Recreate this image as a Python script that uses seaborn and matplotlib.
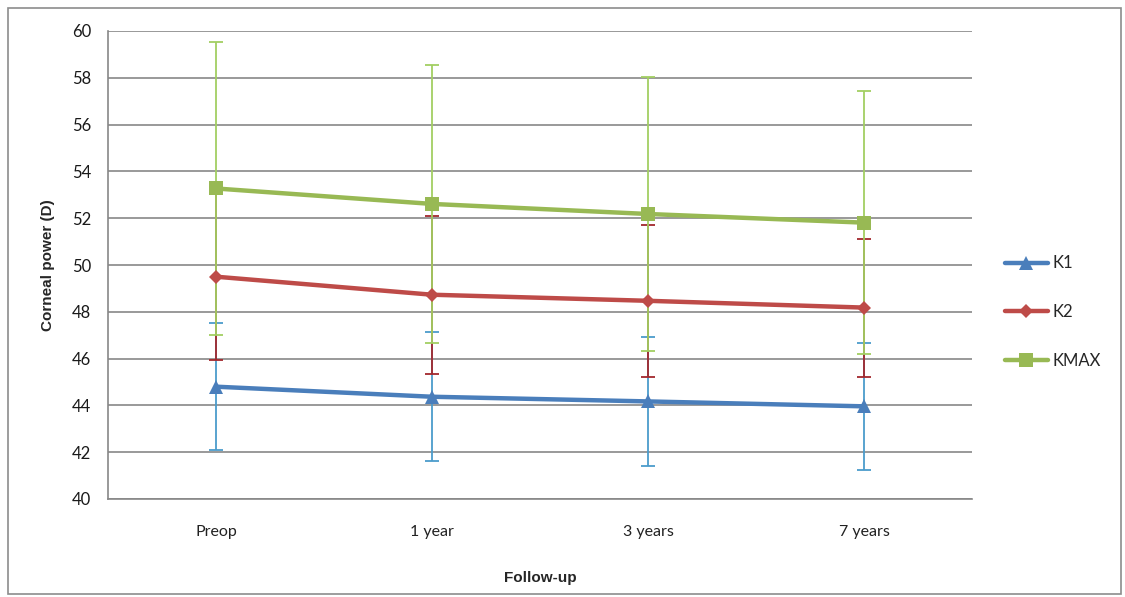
import pandas as pd
import numpy as np
import matplotlib.pyplot as plt
import seaborn as sns
from matplotlib.patches import Rectangle

# data
visits = ['Preop', '1 year', '3 years', '7 years']
k1_mean = [44.8, 44.37, 44.17, 43.96]
k1_sd = [2.71, 2.76, 2.76, 2.71]
k2_mean = [49.5, 48.73, 48.47, 48.18]
k2_sd = [3.58, 3.37, 3.24, 2.95]
kmax_mean = [53.27, 52.61, 52.18, 51.81]
kmax_sd = [6.25, 5.94, 5.87, 5.63]

series = ['K1', 'K2', 'KMAX']
means = {'K1': k1_mean, 'K2': k2_mean, 'KMAX': kmax_mean}
sds = {'K1': k1_sd, 'K2': k2_sd, 'KMAX': kmax_sd}
line_colors = {'K1': '#4a7ebb', 'K2': '#be4b48', 'KMAX': '#98b954'}
err_colors = {'K1': '#4b9ccb', 'K2': '#a3282d', 'KMAX': '#a2cf62'}
marker_map = {'K1': '^', 'K2': 'D', 'KMAX': 's'}
marker_size = {'K1': 10, 'K2': 7, 'KMAX': 10}

rows = []
for s in series:
    for i, v in enumerate(visits):
        rows.append({'pos': i, 'visit': v, 'series': s, 'value': means[s][i], 'sd': sds[s][i]})
df = pd.DataFrame(rows)

sns.set_style('white')
plt.rcParams['font.family'] = ['Lato', 'DejaVu Sans']

fig = plt.figure(figsize=(11.25, 5.97), dpi=100)
ax = fig.add_axes([108 / 1125, 98 / 597, 864 / 1125, 468 / 597])

grid_c = '#878787'
for s in series:
    d = df[df['series'] == s]
    ax.errorbar(d['pos'], d['value'], yerr=d['sd'], fmt='none', ecolor=err_colors[s],
                elinewidth=1.3, capsize=5, capthick=1.3, zorder=3)
    sns.lineplot(data=d, x='pos', y='value', ax=ax, color=line_colors[s], linewidth=3.2,
                 marker=marker_map[s], markersize=marker_size[s], markeredgewidth=0,
                 label=s, zorder=4)

ax.set_xlim(-0.5, 3.5)
ax.set_ylim(40, 60)
ax.set_yticks(np.arange(40, 61, 2))
ax.yaxis.grid(True, color=grid_c, linewidth=1.2)
ax.xaxis.grid(False)
ax.set_axisbelow(True)

ax.set_xticks(range(len(visits)))
ax.set_xticklabels(visits)
ax.set_xticks(np.arange(-0.5, 3.6, 1), minor=True)
ax.tick_params(axis='x', which='major', length=0, pad=19, labelsize=11.5, labelcolor='#222222')
ax.tick_params(axis='x', which='minor', length=6, width=1.2, color=grid_c, direction='out')
ax.tick_params(axis='y', length=6, width=1.2, color=grid_c, direction='out', pad=6,
               labelsize=12, labelcolor='#1a1a1a')

for side in ['top', 'right']:
    ax.spines[side].set_visible(False)
for side in ['left', 'bottom']:
    ax.spines[side].set_color(grid_c)
    ax.spines[side].set_linewidth(1.2)

ax.set_xlabel('Follow-up', fontsize=11, fontweight='bold', family=['Liberation Sans'],
              labelpad=23)
ax.set_ylabel('Corneal power (D)', fontsize=11, fontweight='bold', family=['Liberation Sans'],
              labelpad=12)

ax.legend(loc='center left', bbox_to_anchor=(998 / 1125, (597 - 312) / 597),
          bbox_transform=fig.transFigure, frameon=False, fontsize=12,
          handlelength=2.6, labelspacing=1.95, handletextpad=0.3, borderaxespad=0)

fig.patches.append(Rectangle((8 / 1125, 3 / 597), 1113 / 1125, 586 / 597,
                             transform=fig.transFigure, fill=False,
                             edgecolor='#8c8c8c', linewidth=1.2))

fig.savefig('out.png', dpi=100)
